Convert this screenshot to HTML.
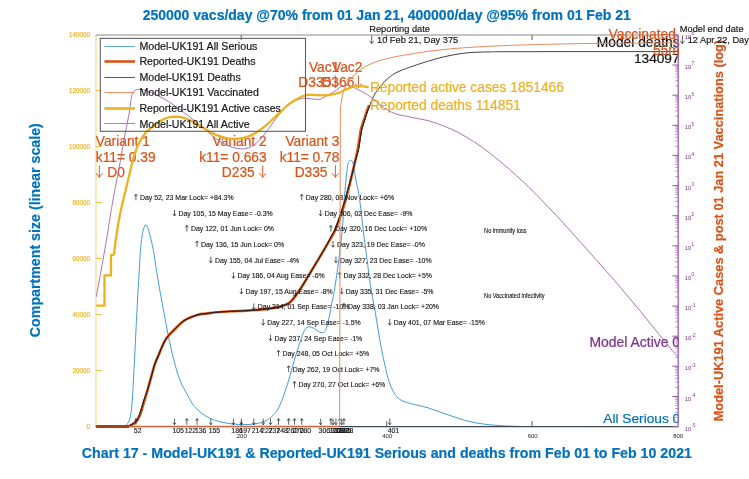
<!DOCTYPE html>
<html><head><meta charset="utf-8"><title>Chart 17</title>
<style>html,body{margin:0;padding:0;background:#fff;overflow:hidden;}svg{display:block;will-change:transform;}text{font-family:"Liberation Sans",sans-serif;}</style>
</head><body>
<svg width="749" height="479" viewBox="0 0 749 479">
<rect width="749" height="479" fill="#fff"/>
<defs><clipPath id="cpR"><rect x="0" y="0" width="678.5" height="479"/></clipPath></defs>
<text x="386.7" y="19.6" text-anchor="middle" font-size="14.0" font-weight="bold" fill="#0072BD" stroke="#0072BD" stroke-width="0.2">250000 vacs/day @70% from 01 Jan 21, 400000/day @95% from 01 Feb 21</text>
<text x="386.9" y="458.1" text-anchor="middle" font-size="14.21" font-weight="bold" fill="#0072BD" stroke="#0072BD" stroke-width="0.2">Chart 17 - Model-UK191 &amp; Reported-UK191 Serious and deaths from Feb 01 to Feb 10 2021</text>
<text transform="translate(40,230.2) rotate(-90)" text-anchor="middle" font-size="14.21" font-weight="bold" fill="#0072BD" stroke="#0072BD" stroke-width="0.2">Compartment size (linear scale)</text>
<text transform="translate(723.3,230.6) rotate(-90)" text-anchor="middle" font-size="12.8" font-weight="bold" fill="#D95319" stroke="#D95319" stroke-width="0.2">Model-UK191 Active Cases &amp; post 01 Jan 21 Vaccinations (log)</text>
<path d="M95.95,34.9 V426.6" stroke="#FAE0A3" stroke-width="1.55" fill="none"/>
<path d="M241.2,426.6 v-5.5 M241.2,34.9 v5" stroke="#4a4a4a" stroke-width="0.9" fill="none"/>
<text x="241.8" y="437.8" text-anchor="middle" font-size="6.0" fill="#222">200</text>
<path d="M386.7,426.6 v-5.5 M386.7,34.9 v5" stroke="#4a4a4a" stroke-width="0.9" fill="none"/>
<text x="387.3" y="437.8" text-anchor="middle" font-size="6.0" fill="#222">400</text>
<path d="M532.1,426.6 v-5.5 M532.1,34.9 v5" stroke="#4a4a4a" stroke-width="0.9" fill="none"/>
<text x="532.7" y="437.8" text-anchor="middle" font-size="6.0" fill="#222">600</text>
<text x="678.2" y="437.8" text-anchor="middle" font-size="6.0" fill="#222">800</text>
<text x="89.9" y="428.9" text-anchor="end" font-size="6.3" fill="#EDB120" stroke="#EDB120" stroke-width="0.15">0</text>
<text x="89.9" y="372.9" text-anchor="end" font-size="6.3" fill="#EDB120" stroke="#EDB120" stroke-width="0.15">20000</text>
<text x="89.9" y="317.0" text-anchor="end" font-size="6.3" fill="#EDB120" stroke="#EDB120" stroke-width="0.15">40000</text>
<text x="89.9" y="261.0" text-anchor="end" font-size="6.3" fill="#EDB120" stroke="#EDB120" stroke-width="0.15">60000</text>
<text x="89.9" y="205.1" text-anchor="end" font-size="6.3" fill="#EDB120" stroke="#EDB120" stroke-width="0.15">80000</text>
<text x="89.9" y="149.1" text-anchor="end" font-size="6.3" fill="#EDB120" stroke="#EDB120" stroke-width="0.15">100000</text>
<text x="89.9" y="93.2" text-anchor="end" font-size="6.3" fill="#EDB120" stroke="#EDB120" stroke-width="0.15">120000</text>
<text x="89.9" y="37.2" text-anchor="end" font-size="6.3" fill="#EDB120" stroke="#EDB120" stroke-width="0.15">140000</text>
<path d="M95.7,35.0 H678.2" stroke="#8a8a8a" stroke-width="1.2" fill="none"/>
<path d="M96.3,370.5 h5.2" stroke="#F0BD45" stroke-width="1.0" fill="none"/>
<path d="M96.3,314.5 h5.2" stroke="#F0BD45" stroke-width="1.0" fill="none"/>
<path d="M96.3,258.5 h5.2" stroke="#F0BD45" stroke-width="1.0" fill="none"/>
<path d="M96.3,202.5 h5.2" stroke="#F0BD45" stroke-width="1.0" fill="none"/>
<path d="M96.3,146.5 h5.2" stroke="#F0BD45" stroke-width="1.0" fill="none"/>
<path d="M96.3,90.5 h5.2" stroke="#F0BD45" stroke-width="1.0" fill="none"/>
<path d="M121.0,426.6 C121.5,426.6 122.9,426.9 124.0,426.3 C125.1,425.8 126.6,424.9 127.7,423.3 C128.8,421.7 129.6,420.5 130.4,416.6 C131.2,412.7 131.7,407.2 132.3,400.0 C132.9,392.8 133.3,382.8 133.8,373.1 C134.3,363.4 134.8,354.0 135.4,341.8 C136.0,329.6 136.9,311.8 137.5,300.0 C138.1,288.2 138.7,279.2 139.2,271.3 C139.7,263.4 139.9,257.9 140.3,252.6 C140.7,247.3 141.1,243.3 141.6,239.4 C142.1,235.5 142.8,231.5 143.5,229.1 C144.2,226.7 145.1,224.8 145.9,224.8 C146.7,224.8 147.3,226.7 148.2,229.1 C149.0,231.5 150.1,235.5 151.0,239.4 C151.9,243.3 152.9,247.3 153.8,252.6 C154.7,257.9 155.6,265.1 156.6,271.3 C157.6,277.6 159.0,285.3 159.8,290.1 C160.6,294.9 160.8,295.6 161.6,300.0 C162.4,304.4 163.7,311.1 164.7,316.7 C165.7,322.3 166.8,328.2 167.8,333.4 C168.9,338.6 169.8,342.9 171.0,348.1 C172.2,353.3 173.7,359.8 175.1,364.8 C176.5,369.9 177.9,374.6 179.3,378.4 C180.7,382.2 182.1,385.0 183.5,387.8 C184.9,390.6 186.2,392.4 187.7,395.1 C189.2,397.8 191.0,401.5 192.5,403.8 C194.0,406.1 195.3,407.3 196.7,408.8 C198.1,410.3 199.5,411.5 200.9,412.6 C202.3,413.7 203.7,414.6 205.1,415.5 C206.5,416.4 207.8,417.3 209.2,418.0 C210.6,418.7 212.0,419.2 213.4,419.7 C214.8,420.2 216.2,420.7 217.6,421.1 C219.0,421.5 220.4,421.9 221.8,422.2 C223.2,422.5 224.6,422.8 226.0,423.0 C227.4,423.2 228.7,423.5 230.1,423.7 C231.5,423.9 232.7,424.0 234.3,424.1 C236.0,424.2 238.1,424.4 240.0,424.5 C241.9,424.6 243.9,424.7 246.0,424.6 C248.1,424.6 250.6,424.4 252.6,424.2 C254.6,424.0 256.2,423.7 258.0,423.3 C259.8,422.9 261.2,422.7 263.1,421.9 C265.0,421.1 267.2,420.3 269.3,418.7 C271.4,417.1 273.9,414.8 275.6,412.5 C277.4,410.2 278.4,408.2 279.8,405.2 C281.2,402.2 282.5,398.5 283.9,394.7 C285.3,390.9 286.7,386.7 288.1,382.2 C289.5,377.7 290.9,372.5 292.3,367.6 C293.7,362.7 295.1,357.5 296.5,353.0 C297.9,348.5 299.4,344.0 300.6,340.4 C301.9,336.8 303.0,333.6 304.0,331.5 C305.0,329.4 305.7,328.6 306.7,327.8 C307.7,327.0 309.0,326.7 310.1,326.8 C311.2,326.9 312.2,327.5 313.5,328.2 C314.8,328.9 316.4,330.1 317.6,330.9 C318.9,331.6 320.0,332.5 321.0,332.7 C322.0,332.9 322.9,332.8 323.7,332.3 C324.5,331.8 325.0,331.0 325.7,329.5 C326.4,328.0 327.1,326.0 327.8,323.4 C328.5,320.8 329.1,317.3 329.8,313.9 C330.5,310.5 331.1,306.5 331.8,303.1 C332.5,299.7 333.4,296.0 333.9,293.6 C334.4,291.2 334.1,292.3 334.6,289.0 C335.1,285.7 336.2,278.7 336.9,273.9 C337.6,269.1 338.2,264.7 338.8,260.1 C339.4,255.5 339.8,251.3 340.4,246.3 C341.0,241.3 341.8,235.2 342.3,230.0 C342.8,224.8 343.0,220.0 343.3,215.0 C343.6,210.0 343.8,204.5 344.1,200.0 C344.4,195.5 344.9,191.7 345.2,188.0 C345.5,184.3 345.8,181.7 346.2,178.0 C346.6,174.3 347.1,168.6 347.6,165.8 C348.1,163.0 348.5,162.3 349.0,161.4 C349.5,160.5 350.1,160.2 350.6,160.2 C351.1,160.2 351.7,160.5 352.2,161.4 C352.7,162.3 353.1,163.0 353.6,165.8 C354.2,168.6 354.6,173.1 355.5,178.0 C356.4,182.9 358.0,188.9 359.0,195.0 C360.0,201.1 360.7,208.2 361.5,214.8 C362.3,221.4 362.9,228.0 363.7,234.6 C364.5,241.2 365.5,247.8 366.4,254.4 C367.3,261.0 368.1,268.3 368.9,274.2 C369.7,280.1 370.5,286.0 371.1,289.9 C371.7,293.8 371.8,293.5 372.5,297.5 C373.2,301.5 374.5,308.3 375.5,313.9 C376.5,319.4 377.4,325.2 378.3,330.8 C379.2,336.4 380.1,342.1 381.2,347.7 C382.3,353.3 383.6,359.5 384.8,364.7 C386.0,369.9 386.9,374.6 388.2,378.8 C389.5,383.0 390.9,386.9 392.5,390.1 C394.1,393.3 396.0,396.0 398.1,398.0 C400.2,400.0 402.1,400.7 405.2,401.9 C408.2,403.1 412.6,404.0 416.4,405.0 C420.2,406.0 424.1,406.6 428.0,407.8 C431.9,409.0 436.0,410.7 440.0,412.1 C444.0,413.5 448.0,414.9 452.0,416.2 C456.0,417.5 460.1,419.0 464.1,420.1 C468.1,421.2 472.1,422.1 476.1,422.9 C480.1,423.6 484.1,424.2 488.1,424.6 C492.1,425.1 496.2,425.3 500.2,425.6 C504.2,425.9 508.7,426.1 512.0,426.2 C515.3,426.3 518.7,426.4 520.0,426.5" stroke="#449ADA" stroke-width="1.0" fill="none"/>
<path d="M96.3,426.4 C101.2,426.4 120.3,426.5 126.0,426.3 C131.7,426.1 128.8,426.1 130.4,425.4 C132.0,424.7 134.2,423.7 135.8,422.0 C137.4,420.3 138.4,418.9 139.9,415.2 C141.4,411.5 143.3,404.2 144.6,400.0 C145.9,395.8 146.5,393.6 147.6,389.8 C148.7,386.0 149.9,381.5 151.1,377.3 C152.3,373.1 153.4,368.4 154.6,364.8 C155.8,361.2 157.1,358.7 158.2,356.0 C159.3,353.3 160.2,351.0 161.3,348.4 C162.4,345.8 163.8,342.8 165.0,340.6 C166.2,338.4 167.5,336.8 168.8,335.3 C170.0,333.8 171.2,332.8 172.5,331.5 C173.8,330.2 175.0,328.9 176.2,327.7 C177.5,326.5 178.6,325.3 180.0,324.1 C181.4,322.9 182.7,321.5 184.5,320.4 C186.3,319.3 188.7,318.2 190.8,317.3 C192.8,316.4 195.1,315.7 197.0,315.1 C198.9,314.5 200.7,314.2 202.0,313.9 C203.3,313.7 202.7,314.1 205.0,313.8 C207.3,313.5 211.3,312.7 215.7,312.3 C220.1,311.9 226.1,311.6 231.3,311.3 C236.5,311.0 241.8,310.9 247.0,310.6 C252.2,310.3 258.0,309.9 262.7,309.4 C267.4,308.9 271.5,308.3 275.2,307.6 C278.9,306.9 282.5,305.9 285.0,305.0 C287.5,304.1 288.6,303.5 290.4,301.9 C292.2,300.3 294.1,297.8 295.9,295.4 C297.7,293.0 299.5,290.3 301.3,287.5 C303.1,284.7 304.9,281.6 306.7,278.7 C308.5,275.8 310.1,273.1 312.0,269.9 C313.9,266.7 316.0,263.2 318.2,259.6 C320.4,256.0 322.9,251.8 325.0,248.2 C327.1,244.6 329.2,241.1 330.9,238.1 C332.6,235.1 333.7,233.7 335.3,230.0 C336.9,226.3 338.8,221.0 340.5,216.0 C342.2,211.0 344.3,204.4 345.6,200.0 C346.9,195.6 347.5,193.2 348.4,189.5 C349.3,185.8 350.2,182.2 351.2,178.0 C352.2,173.8 353.3,169.0 354.4,164.3 C355.5,159.6 356.8,154.0 357.6,150.0 C358.4,146.0 358.6,143.9 359.2,140.5 C359.8,137.1 360.1,133.0 361.0,129.4 C361.9,125.8 363.3,121.9 364.3,118.8 C365.3,115.6 366.2,112.9 367.0,110.6 C367.8,108.3 368.8,106.1 369.1,105.2" stroke="#D95319" stroke-width="2.65" fill="none" stroke-linejoin="round"/>
<path d="M95.7,426.4 C100.7,426.4 119.7,426.5 125.4,426.3 C131.1,426.1 128.2,426.1 129.8,425.4 C131.4,424.7 133.6,423.7 135.2,422.0 C136.8,420.3 137.8,418.9 139.3,415.2 C140.8,411.5 142.6,404.2 144.0,400.0 C145.4,395.8 146.4,393.6 147.6,389.8 C148.8,386.0 149.9,381.5 151.1,377.3 C152.3,373.1 153.4,368.4 154.6,364.8 C155.8,361.2 157.1,358.7 158.2,356.0 C159.3,353.3 160.2,351.0 161.3,348.4 C162.4,345.8 163.8,342.8 165.0,340.6 C166.2,338.4 167.5,336.8 168.8,335.3 C170.0,333.8 171.2,332.8 172.5,331.5 C173.8,330.2 175.0,328.9 176.2,327.7 C177.5,326.5 178.6,325.3 180.0,324.1 C181.4,322.9 182.7,321.5 184.5,320.4 C186.3,319.3 188.7,318.2 190.8,317.3 C192.8,316.4 195.1,315.7 197.0,315.1 C198.9,314.5 200.7,314.2 202.0,313.9 C203.3,313.7 202.7,314.1 205.0,313.8 C207.3,313.5 211.3,312.7 215.7,312.3 C220.1,311.9 226.1,311.6 231.3,311.3 C236.5,311.0 241.8,310.9 247.0,310.6 C252.2,310.3 258.0,309.9 262.7,309.4 C267.4,308.9 271.5,308.3 275.2,307.6 C278.9,306.9 282.5,305.9 285.0,305.0 C287.5,304.1 288.6,303.5 290.4,301.9 C292.2,300.3 294.1,297.8 295.9,295.4 C297.7,293.0 299.5,290.3 301.3,287.5 C303.1,284.7 304.9,281.6 306.7,278.7 C308.5,275.8 310.1,273.1 312.0,269.9 C313.9,266.7 316.0,263.2 318.2,259.6 C320.4,256.0 323.0,251.8 325.0,248.2 C327.0,244.6 328.7,241.1 330.3,238.1 C331.9,235.1 333.1,233.7 334.7,230.0 C336.3,226.3 338.2,221.0 339.9,216.0 C341.6,211.0 343.7,204.4 345.0,200.0 C346.3,195.6 346.8,193.2 347.8,189.5 C348.8,185.8 350.1,182.2 351.2,178.0 C352.3,173.8 353.2,169.0 354.4,164.3 C355.6,159.6 357.5,154.0 358.4,150.0 C359.3,146.0 359.4,143.9 360.0,140.5 C360.6,137.1 360.9,133.0 361.8,129.4 C362.7,125.8 364.1,121.9 365.1,118.8 C366.1,115.6 367.0,112.9 367.8,110.6 C368.6,108.3 369.5,106.4 369.9,105.2 C370.3,104.0 370.1,104.4 370.4,103.5 C370.7,102.6 371.2,101.4 371.9,99.8 C372.6,98.2 373.8,95.7 374.8,94.0 C375.8,92.3 376.8,91.1 378.1,89.4 C379.4,87.7 380.9,85.5 382.5,83.8 C384.1,82.0 385.6,80.4 387.5,78.8 C389.4,77.1 391.7,75.4 393.8,74.1 C395.8,72.8 398.1,71.8 400.0,70.9 C401.9,70.1 402.7,69.8 404.9,69.0 C407.1,68.2 410.2,67.0 413.2,66.0 C416.1,65.0 419.5,63.9 422.6,62.9 C425.7,61.9 429.1,60.9 432.0,60.0 C434.9,59.1 437.0,58.5 440.0,57.8 C443.0,57.0 446.7,56.2 450.0,55.5 C453.3,54.8 456.7,54.2 460.0,53.7 C463.3,53.2 466.7,52.9 470.0,52.6 C473.3,52.3 476.7,52.2 480.0,52.1 C483.3,52.0 486.1,51.9 490.0,51.9 C493.9,51.8 493.5,51.7 503.5,51.7 C513.5,51.7 520.9,51.7 550.0,51.6 C579.1,51.6 656.7,51.6 678.0,51.6" stroke="#2e2e2e" stroke-width="0.9" fill="none"/>
<path d="M95.7,426.4 C100.7,426.4 119.7,426.5 125.4,426.3 C131.1,426.1 128.2,426.1 129.8,425.4 C131.4,424.7 133.6,423.7 135.2,422.0 C136.8,420.3 137.8,418.9 139.3,415.2 C140.8,411.5 142.6,404.2 144.0,400.0 C145.4,395.8 146.4,393.6 147.6,389.8 C148.8,386.0 149.9,381.5 151.1,377.3 C152.3,373.1 153.4,368.4 154.6,364.8 C155.8,361.2 157.1,358.7 158.2,356.0 C159.3,353.3 160.2,351.0 161.3,348.4 C162.4,345.8 163.8,342.8 165.0,340.6 C166.2,338.4 167.5,336.8 168.8,335.3 C170.0,333.8 171.2,332.8 172.5,331.5 C173.8,330.2 175.0,328.9 176.2,327.7 C177.5,326.5 178.6,325.3 180.0,324.1 C181.4,322.9 182.7,321.5 184.5,320.4 C186.3,319.3 188.7,318.2 190.8,317.3 C192.8,316.4 195.1,315.7 197.0,315.1 C198.9,314.5 200.7,314.2 202.0,313.9 C203.3,313.7 202.7,314.1 205.0,313.8 C207.3,313.5 211.3,312.7 215.7,312.3 C220.1,311.9 226.1,311.6 231.3,311.3 C236.5,311.0 241.8,310.9 247.0,310.6 C252.2,310.3 258.0,309.9 262.7,309.4 C267.4,308.9 271.5,308.3 275.2,307.6 C278.9,306.9 282.5,305.9 285.0,305.0 C287.5,304.1 288.6,303.5 290.4,301.9 C292.2,300.3 294.1,297.8 295.9,295.4 C297.7,293.0 299.5,290.3 301.3,287.5 C303.1,284.7 304.9,281.6 306.7,278.7 C308.5,275.8 310.1,273.1 312.0,269.9 C313.9,266.7 316.0,263.2 318.2,259.6 C320.4,256.0 323.0,251.8 325.0,248.2 C327.0,244.6 328.7,241.1 330.3,238.1 C331.9,235.1 333.1,233.7 334.7,230.0 C336.3,226.3 338.2,221.0 339.9,216.0 C341.6,211.0 343.7,204.4 345.0,200.0 C346.3,195.6 346.8,193.2 347.8,189.5 C348.8,185.8 350.1,182.2 351.2,178.0 C352.3,173.8 353.2,169.0 354.4,164.3 C355.6,159.6 357.5,154.0 358.4,150.0 C359.3,146.0 359.4,143.9 360.0,140.5 C360.6,137.1 360.9,133.0 361.8,129.4 C362.7,125.8 364.1,121.9 365.1,118.8 C366.1,115.6 367.0,112.9 367.8,110.6 C368.6,108.3 369.6,106.1 369.9,105.2" stroke="#261a12" stroke-width="0.85" fill="none"/>
<path d="M96.3,426.6 H678.2" stroke="#3d4652" stroke-width="1.15" fill="none"/>
<text x="95.8" y="146.0" text-anchor="start" font-size="13.75" fill="#D95319" stroke="#D95319" stroke-width="0.22">Variant 1</text>
<text x="95.8" y="161.5" text-anchor="start" font-size="13.75" fill="#D95319" stroke="#D95319" stroke-width="0.22">k11= 0.39</text>
<path d="M99.35,165.28 V177.38 M95.91,173.53 Q98.66,175.26 99.35,177.38 Q100.03,175.26 102.78,173.53" stroke="#D95319" stroke-width="0.91" fill="none"/>
<text x="107.3" y="177.1" text-anchor="start" font-size="13.75" fill="#D95319" stroke="#D95319" stroke-width="0.22">D0</text>
<text x="266.6" y="146.0" text-anchor="end" font-size="13.75" fill="#D95319" stroke="#D95319" stroke-width="0.22">Variant 2</text>
<text x="266.6" y="161.5" text-anchor="end" font-size="13.75" fill="#D95319" stroke="#D95319" stroke-width="0.22">k11= 0.663</text>
<path d="M262.69,165.28 V177.38 M259.25,173.53 Q262.00,175.26 262.69,177.38 Q263.38,175.26 266.12,173.53" stroke="#D95319" stroke-width="0.91" fill="none"/>
<text x="254.7" y="177.1" text-anchor="end" font-size="13.75" fill="#D95319" stroke="#D95319" stroke-width="0.22">D235</text>
<text x="339.4" y="146.0" text-anchor="end" font-size="13.75" fill="#D95319" stroke="#D95319" stroke-width="0.22">Variant 3</text>
<text x="339.4" y="161.5" text-anchor="end" font-size="13.75" fill="#D95319" stroke="#D95319" stroke-width="0.22">k11= 0.78</text>
<path d="M335.43,165.28 V177.38 M331.99,173.53 Q334.74,175.26 335.43,177.38 Q336.11,175.26 338.86,173.53" stroke="#D95319" stroke-width="0.91" fill="none"/>
<text x="327.5" y="177.1" text-anchor="end" font-size="13.75" fill="#D95319" stroke="#D95319" stroke-width="0.22">D335</text>
<text x="339.3" y="71.6" text-anchor="end" font-size="13.75" fill="#D95319" stroke="#D95319" stroke-width="0.22">Vac1</text>
<path d="M335.33,75.47 V87.58 M331.89,83.73 Q334.64,85.46 335.33,87.58 Q336.01,85.46 338.76,83.73" stroke="#D95319" stroke-width="0.91" fill="none"/>
<text x="331.2" y="87.3" text-anchor="end" font-size="13.75" fill="#D95319" stroke="#D95319" stroke-width="0.22">D335</text>
<text x="362.4" y="71.6" text-anchor="end" font-size="13.75" fill="#D95319" stroke="#D95319" stroke-width="0.22">Vac2</text>
<path d="M358.47,75.47 V87.58 M355.04,83.73 Q357.79,85.46 358.47,87.58 Q359.16,85.46 361.91,83.73" stroke="#D95319" stroke-width="0.91" fill="none"/>
<text x="354.3" y="87.3" text-anchor="end" font-size="13.75" fill="#D95319" stroke="#D95319" stroke-width="0.22">D366</text>
<text x="369.9" y="110.0" text-anchor="start" font-size="13.8" fill="#EDB120" stroke="#EDB120" stroke-width="0.22">Reported deaths 114851</text>
<text x="679.6" y="47.4" text-anchor="end" font-size="13.8" fill="#141414" stroke="#141414" stroke-width="0.22">Model deaths</text>
<text x="679.6" y="62.8" text-anchor="end" font-size="13.7" fill="#141414" stroke="#141414" stroke-width="0.22">134097</text>
<text x="680.2" y="423.1" text-anchor="end" font-size="13.7" fill="#0072BD" stroke="#0072BD" stroke-width="0.22" clip-path="url(#cpR)">All Serious 0</text>
<text x="369.3" y="32.0" text-anchor="start" font-size="9.25" fill="#141414" stroke="#141414" stroke-width="0.16">Reporting date</text>
<path d="M371.69,35.45 V43.59 M369.38,40.99 Q371.23,42.16 371.69,43.59 Q372.15,42.16 374.00,40.99" stroke="#141414" stroke-width="0.68" fill="none"/>
<text x="377.0" y="43.4" text-anchor="start" font-size="9.25" fill="#141414" stroke="#141414" stroke-width="0.16">10 Feb 21, Day 375</text>
<text x="679.8" y="32.0" text-anchor="start" font-size="9.25" fill="#141414" stroke="#141414" stroke-width="0.16">Model end date</text>
<path d="M682.39,35.45 V43.59 M680.08,40.99 Q681.93,42.16 682.39,43.59 Q682.85,42.16 684.70,40.99" stroke="#141414" stroke-width="0.68" fill="none"/>
<text x="687.7" y="43.4" text-anchor="start" font-size="9.25" fill="#141414" stroke="#141414" stroke-width="0.16">12 Apr 22, Day 800</text>
<text transform="translate(484.1,233.2) scale(1,1.22)" font-size="5.6" fill="#141414" stroke="#141414" stroke-width="0.1">No immunity loss</text>
<text transform="translate(484.1,297.6) scale(1,1.22)" font-size="5.6" fill="#141414" stroke="#141414" stroke-width="0.1">No Vaccinated infectivity</text>
<path d="M135.92,200.34 V194.22 M134.18,196.17 Q135.57,195.29 135.92,194.22 Q136.27,195.29 137.66,196.17" stroke="#141414" stroke-width="0.68" fill="none"/>
<text x="139.9" y="200.2" text-anchor="start" font-size="6.95" fill="#141414" stroke="#141414" stroke-width="0.12">Day 52, 23 Mar Lock= +84.3%</text>
<path d="M135.92,424.74 V418.62 M134.18,420.57 Q135.57,419.69 135.92,418.62 Q136.27,419.69 137.66,420.57" stroke="#141414" stroke-width="0.68" fill="none"/>
<text x="133.8" y="432.8" text-anchor="start" font-size="6.9" fill="#141414" stroke="#141414" stroke-width="0.12">52</text>
<path d="M174.47,209.82 V215.94 M172.73,213.99 Q174.12,214.87 174.47,215.94 Q174.82,214.87 176.21,213.99" stroke="#141414" stroke-width="0.68" fill="none"/>
<text x="178.5" y="215.8" text-anchor="start" font-size="6.95" fill="#141414" stroke="#141414" stroke-width="0.12">Day 105, 15 May Ease= -0.3%</text>
<path d="M174.47,418.62 V424.74 M172.73,422.79 Q174.12,423.67 174.47,424.74 Q174.82,423.67 176.21,422.79" stroke="#141414" stroke-width="0.68" fill="none"/>
<text x="172.4" y="432.8" text-anchor="start" font-size="6.9" fill="#141414" stroke="#141414" stroke-width="0.12">105</text>
<path d="M186.84,231.54 V225.42 M185.10,227.37 Q186.49,226.49 186.84,225.42 Q187.18,226.49 188.57,227.37" stroke="#141414" stroke-width="0.68" fill="none"/>
<text x="190.9" y="231.4" text-anchor="start" font-size="6.95" fill="#141414" stroke="#141414" stroke-width="0.12">Day 122, 01 Jun Lock= 0%</text>
<path d="M186.84,424.74 V418.62 M185.10,420.57 Q186.49,419.69 186.84,418.62 Q187.18,419.69 188.57,420.57" stroke="#141414" stroke-width="0.68" fill="none"/>
<text x="184.7" y="432.8" text-anchor="start" font-size="6.9" fill="#141414" stroke="#141414" stroke-width="0.12">122</text>
<path d="M197.02,247.14 V241.02 M195.28,242.97 Q196.67,242.09 197.02,241.02 Q197.37,242.09 198.76,242.97" stroke="#141414" stroke-width="0.68" fill="none"/>
<text x="201.0" y="247.0" text-anchor="start" font-size="6.95" fill="#141414" stroke="#141414" stroke-width="0.12">Day 136, 15 Jun Lock= 0%</text>
<path d="M197.02,424.74 V418.62 M195.28,420.57 Q196.67,419.69 197.02,418.62 Q197.37,419.69 198.76,420.57" stroke="#141414" stroke-width="0.68" fill="none"/>
<text x="194.9" y="432.8" text-anchor="start" font-size="6.9" fill="#141414" stroke="#141414" stroke-width="0.12">136</text>
<path d="M210.84,256.62 V262.74 M209.10,260.79 Q210.49,261.67 210.84,262.74 Q211.19,261.67 212.58,260.79" stroke="#141414" stroke-width="0.68" fill="none"/>
<text x="214.9" y="262.6" text-anchor="start" font-size="6.95" fill="#141414" stroke="#141414" stroke-width="0.12">Day 155, 04 Jul Ease= -4%</text>
<path d="M210.84,418.62 V424.74 M209.10,422.79 Q210.49,423.67 210.84,424.74 Q211.19,423.67 212.58,422.79" stroke="#141414" stroke-width="0.68" fill="none"/>
<text x="208.7" y="432.8" text-anchor="start" font-size="6.9" fill="#141414" stroke="#141414" stroke-width="0.12">155</text>
<path d="M233.39,272.22 V278.34 M231.65,276.39 Q233.04,277.27 233.39,278.34 Q233.73,277.27 235.12,276.39" stroke="#141414" stroke-width="0.68" fill="none"/>
<text x="237.4" y="278.2" text-anchor="start" font-size="6.95" fill="#141414" stroke="#141414" stroke-width="0.12">Day 186, 04 Aug Ease= -6%</text>
<path d="M233.39,418.62 V424.74 M231.65,422.79 Q233.04,423.67 233.39,424.74 Q233.73,423.67 235.12,422.79" stroke="#141414" stroke-width="0.68" fill="none"/>
<text x="231.3" y="432.8" text-anchor="start" font-size="6.9" fill="#141414" stroke="#141414" stroke-width="0.12">186</text>
<path d="M241.39,287.82 V293.94 M239.65,291.99 Q241.04,292.87 241.39,293.94 Q241.74,292.87 243.13,291.99" stroke="#141414" stroke-width="0.68" fill="none"/>
<text x="245.4" y="293.8" text-anchor="start" font-size="6.95" fill="#141414" stroke="#141414" stroke-width="0.12">Day 197, 15 Aug Ease= -8%</text>
<path d="M241.39,418.62 V424.74 M239.65,422.79 Q241.04,423.67 241.39,424.74 Q241.74,423.67 243.13,422.79" stroke="#141414" stroke-width="0.68" fill="none"/>
<text x="239.3" y="432.8" text-anchor="start" font-size="6.9" fill="#141414" stroke="#141414" stroke-width="0.12">197</text>
<path d="M253.75,303.42 V309.54 M252.02,307.59 Q253.41,308.47 253.75,309.54 Q254.10,308.47 255.49,307.59" stroke="#141414" stroke-width="0.68" fill="none"/>
<text x="257.8" y="309.4" text-anchor="start" font-size="6.95" fill="#141414" stroke="#141414" stroke-width="0.12">Day 214, 01 Sep Ease= -10%</text>
<path d="M253.75,418.62 V424.74 M252.02,422.79 Q253.41,423.67 253.75,424.74 Q254.10,423.67 255.49,422.79" stroke="#141414" stroke-width="0.68" fill="none"/>
<text x="251.7" y="432.8" text-anchor="start" font-size="6.9" fill="#141414" stroke="#141414" stroke-width="0.12">214</text>
<path d="M263.21,319.02 V325.14 M261.47,323.19 Q262.86,324.07 263.21,325.14 Q263.56,324.07 264.95,323.19" stroke="#141414" stroke-width="0.68" fill="none"/>
<text x="267.2" y="325.0" text-anchor="start" font-size="6.95" fill="#141414" stroke="#141414" stroke-width="0.12">Day 227, 14 Sep Ease= -1.5%</text>
<path d="M263.21,418.62 V424.74 M261.47,422.79 Q262.86,423.67 263.21,424.74 Q263.56,423.67 264.95,422.79" stroke="#141414" stroke-width="0.68" fill="none"/>
<text x="261.1" y="432.8" text-anchor="start" font-size="6.9" fill="#141414" stroke="#141414" stroke-width="0.12">227</text>
<path d="M270.48,334.62 V340.74 M268.75,338.79 Q270.14,339.67 270.48,340.74 Q270.83,339.67 272.22,338.79" stroke="#141414" stroke-width="0.68" fill="none"/>
<text x="274.5" y="340.6" text-anchor="start" font-size="6.95" fill="#141414" stroke="#141414" stroke-width="0.12">Day 237, 24 Sep Ease= -1%</text>
<path d="M270.48,418.62 V424.74 M268.75,422.79 Q270.14,423.67 270.48,424.74 Q270.83,423.67 272.22,422.79" stroke="#141414" stroke-width="0.68" fill="none"/>
<text x="268.4" y="432.8" text-anchor="start" font-size="6.9" fill="#141414" stroke="#141414" stroke-width="0.12">237</text>
<path d="M278.48,356.34 V350.22 M276.75,352.17 Q278.14,351.29 278.48,350.22 Q278.83,351.29 280.22,352.17" stroke="#141414" stroke-width="0.68" fill="none"/>
<text x="282.5" y="356.2" text-anchor="start" font-size="6.95" fill="#141414" stroke="#141414" stroke-width="0.12">Day 248, 05 Oct Lock= +5%</text>
<path d="M278.48,424.74 V418.62 M276.75,420.57 Q278.14,419.69 278.48,418.62 Q278.83,419.69 280.22,420.57" stroke="#141414" stroke-width="0.68" fill="none"/>
<text x="276.4" y="432.8" text-anchor="start" font-size="6.9" fill="#141414" stroke="#141414" stroke-width="0.12">248</text>
<path d="M288.67,371.94 V365.82 M286.93,367.77 Q288.32,366.89 288.67,365.82 Q289.02,366.89 290.41,367.77" stroke="#141414" stroke-width="0.68" fill="none"/>
<text x="292.7" y="371.8" text-anchor="start" font-size="6.95" fill="#141414" stroke="#141414" stroke-width="0.12">Day 262, 19 Oct Lock= +7%</text>
<path d="M288.67,424.74 V418.62 M286.93,420.57 Q288.32,419.69 288.67,418.62 Q289.02,419.69 290.41,420.57" stroke="#141414" stroke-width="0.68" fill="none"/>
<text x="286.6" y="432.8" text-anchor="start" font-size="6.9" fill="#141414" stroke="#141414" stroke-width="0.12">262</text>
<path d="M294.49,387.54 V381.42 M292.75,383.37 Q294.14,382.49 294.49,381.42 Q294.83,382.49 296.22,383.37" stroke="#141414" stroke-width="0.68" fill="none"/>
<text x="298.5" y="387.4" text-anchor="start" font-size="6.95" fill="#141414" stroke="#141414" stroke-width="0.12">Day 270, 27 Oct Lock= +6%</text>
<path d="M294.49,424.74 V418.62 M292.75,420.57 Q294.14,419.69 294.49,418.62 Q294.83,419.69 296.22,420.57" stroke="#141414" stroke-width="0.68" fill="none"/>
<text x="292.4" y="432.8" text-anchor="start" font-size="6.9" fill="#141414" stroke="#141414" stroke-width="0.12">270</text>
<path d="M301.76,200.34 V194.22 M300.02,196.17 Q301.41,195.29 301.76,194.22 Q302.11,195.29 303.50,196.17" stroke="#141414" stroke-width="0.68" fill="none"/>
<text x="305.8" y="200.2" text-anchor="start" font-size="6.95" fill="#141414" stroke="#141414" stroke-width="0.12">Day 280, 08 Nov Lock= +6%</text>
<path d="M301.76,424.74 V418.62 M300.02,420.57 Q301.41,419.69 301.76,418.62 Q302.11,419.69 303.50,420.57" stroke="#141414" stroke-width="0.68" fill="none"/>
<text x="299.7" y="432.8" text-anchor="start" font-size="6.9" fill="#141414" stroke="#141414" stroke-width="0.12">280</text>
<path d="M320.67,209.82 V215.94 M318.93,213.99 Q320.32,214.87 320.67,215.94 Q321.02,214.87 322.41,213.99" stroke="#141414" stroke-width="0.68" fill="none"/>
<text x="324.7" y="215.8" text-anchor="start" font-size="6.95" fill="#141414" stroke="#141414" stroke-width="0.12">Day 306, 02 Dec Ease= -9%</text>
<path d="M320.67,418.62 V424.74 M318.93,422.79 Q320.32,423.67 320.67,424.74 Q321.02,423.67 322.41,422.79" stroke="#141414" stroke-width="0.68" fill="none"/>
<text x="318.6" y="432.8" text-anchor="start" font-size="6.9" fill="#141414" stroke="#141414" stroke-width="0.12">306</text>
<path d="M330.86,231.54 V225.42 M329.12,227.37 Q330.51,226.49 330.86,225.42 Q331.20,226.49 332.59,227.37" stroke="#141414" stroke-width="0.68" fill="none"/>
<text x="334.9" y="231.4" text-anchor="start" font-size="6.95" fill="#141414" stroke="#141414" stroke-width="0.12">Day 320, 16 Dec Lock= +10%</text>
<path d="M330.86,424.74 V418.62 M329.12,420.57 Q330.51,419.69 330.86,418.62 Q331.20,419.69 332.59,420.57" stroke="#141414" stroke-width="0.68" fill="none"/>
<text x="328.8" y="432.8" text-anchor="start" font-size="6.9" fill="#141414" stroke="#141414" stroke-width="0.12">320</text>
<path d="M333.04,241.02 V247.14 M331.30,245.19 Q332.69,246.07 333.04,247.14 Q333.39,246.07 334.78,245.19" stroke="#141414" stroke-width="0.68" fill="none"/>
<text x="337.1" y="247.0" text-anchor="start" font-size="6.95" fill="#141414" stroke="#141414" stroke-width="0.12">Day 323, 19 Dec Ease= -0%</text>
<path d="M333.04,418.62 V424.74 M331.30,422.79 Q332.69,423.67 333.04,424.74 Q333.39,423.67 334.78,422.79" stroke="#141414" stroke-width="0.68" fill="none"/>
<text x="330.9" y="432.8" text-anchor="start" font-size="6.9" fill="#141414" stroke="#141414" stroke-width="0.12">323</text>
<path d="M335.95,256.62 V262.74 M334.21,260.79 Q335.60,261.67 335.95,262.74 Q336.29,261.67 337.68,260.79" stroke="#141414" stroke-width="0.68" fill="none"/>
<text x="340.0" y="262.6" text-anchor="start" font-size="6.95" fill="#141414" stroke="#141414" stroke-width="0.12">Day 327, 23 Dec Ease= -10%</text>
<path d="M335.95,418.62 V424.74 M334.21,422.79 Q335.60,423.67 335.95,424.74 Q336.29,423.67 337.68,422.79" stroke="#141414" stroke-width="0.68" fill="none"/>
<text x="333.9" y="432.8" text-anchor="start" font-size="6.9" fill="#141414" stroke="#141414" stroke-width="0.12">327</text>
<path d="M339.58,278.34 V272.22 M337.85,274.17 Q339.24,273.29 339.58,272.22 Q339.93,273.29 341.32,274.17" stroke="#141414" stroke-width="0.68" fill="none"/>
<text x="343.6" y="278.2" text-anchor="start" font-size="6.95" fill="#141414" stroke="#141414" stroke-width="0.12">Day 332, 28 Dec Lock= +5%</text>
<path d="M339.58,424.74 V418.62 M337.85,420.57 Q339.24,419.69 339.58,418.62 Q339.93,419.69 341.32,420.57" stroke="#141414" stroke-width="0.68" fill="none"/>
<text x="337.5" y="432.8" text-anchor="start" font-size="6.9" fill="#141414" stroke="#141414" stroke-width="0.12">332</text>
<path d="M341.77,287.82 V293.94 M340.03,291.99 Q341.42,292.87 341.77,293.94 Q342.11,292.87 343.50,291.99" stroke="#141414" stroke-width="0.68" fill="none"/>
<text x="345.8" y="293.8" text-anchor="start" font-size="6.95" fill="#141414" stroke="#141414" stroke-width="0.12">Day 335, 31 Dec Ease= -5%</text>
<path d="M341.77,418.62 V424.74 M340.03,422.79 Q341.42,423.67 341.77,424.74 Q342.11,423.67 343.50,422.79" stroke="#141414" stroke-width="0.68" fill="none"/>
<text x="339.7" y="432.8" text-anchor="start" font-size="6.9" fill="#141414" stroke="#141414" stroke-width="0.12">335</text>
<path d="M343.95,309.54 V303.42 M342.21,305.37 Q343.60,304.49 343.95,303.42 Q344.30,304.49 345.69,305.37" stroke="#141414" stroke-width="0.68" fill="none"/>
<text x="348.0" y="309.4" text-anchor="start" font-size="6.95" fill="#141414" stroke="#141414" stroke-width="0.12">Day 338, 03 Jan Lock= +20%</text>
<path d="M343.95,424.74 V418.62 M342.21,420.57 Q343.60,419.69 343.95,418.62 Q344.30,419.69 345.69,420.57" stroke="#141414" stroke-width="0.68" fill="none"/>
<text x="341.9" y="432.8" text-anchor="start" font-size="6.9" fill="#141414" stroke="#141414" stroke-width="0.12">338</text>
<path d="M389.77,319.02 V325.14 M388.04,323.19 Q389.43,324.07 389.77,325.14 Q390.12,324.07 391.51,323.19" stroke="#141414" stroke-width="0.68" fill="none"/>
<text x="393.8" y="325.0" text-anchor="start" font-size="6.95" fill="#141414" stroke="#141414" stroke-width="0.12">Day 401, 07 Mar Ease= -15%</text>
<path d="M389.77,418.62 V424.74 M388.04,422.79 Q389.43,423.67 389.77,424.74 Q390.12,423.67 391.51,422.79" stroke="#141414" stroke-width="0.68" fill="none"/>
<text x="387.7" y="432.8" text-anchor="start" font-size="6.9" fill="#141414" stroke="#141414" stroke-width="0.12">401</text>
<path d="M678.2,34.9 V426.6" stroke="#9B5FA8" stroke-width="1.3" fill="none"/>
<path d="M678.2,34.9 h-5.8" stroke="#9559A3" stroke-width="1.0" fill="none"/>
<text x="684.7" y="38.9" font-size="5.8" fill="#7E2F8E">10<tspan dy="-3.6" dx="0.3" font-size="4.5">8</tspan></text>
<path d="M678.2,56.0 h-2.9" stroke="#A06AAD" stroke-width="0.75" fill="none"/>
<path d="M678.2,50.7 h-2.9" stroke="#A06AAD" stroke-width="0.75" fill="none"/>
<path d="M678.2,46.9 h-2.9" stroke="#A06AAD" stroke-width="0.75" fill="none"/>
<path d="M678.2,44.0 h-2.9" stroke="#A06AAD" stroke-width="0.75" fill="none"/>
<path d="M678.2,41.6 h-2.9" stroke="#A06AAD" stroke-width="0.75" fill="none"/>
<path d="M678.2,39.6 h-2.9" stroke="#A06AAD" stroke-width="0.75" fill="none"/>
<path d="M678.2,37.8 h-2.9" stroke="#A06AAD" stroke-width="0.75" fill="none"/>
<path d="M678.2,36.3 h-2.9" stroke="#A06AAD" stroke-width="0.75" fill="none"/>
<path d="M678.2,65.0 h-5.8" stroke="#9559A3" stroke-width="1.0" fill="none"/>
<text x="684.7" y="69.0" font-size="5.8" fill="#7E2F8E">10<tspan dy="-3.6" dx="0.3" font-size="4.5">7</tspan></text>
<path d="M678.2,86.1 h-2.9" stroke="#A06AAD" stroke-width="0.75" fill="none"/>
<path d="M678.2,80.8 h-2.9" stroke="#A06AAD" stroke-width="0.75" fill="none"/>
<path d="M678.2,77.0 h-2.9" stroke="#A06AAD" stroke-width="0.75" fill="none"/>
<path d="M678.2,74.1 h-2.9" stroke="#A06AAD" stroke-width="0.75" fill="none"/>
<path d="M678.2,71.7 h-2.9" stroke="#A06AAD" stroke-width="0.75" fill="none"/>
<path d="M678.2,69.7 h-2.9" stroke="#A06AAD" stroke-width="0.75" fill="none"/>
<path d="M678.2,68.0 h-2.9" stroke="#A06AAD" stroke-width="0.75" fill="none"/>
<path d="M678.2,66.4 h-2.9" stroke="#A06AAD" stroke-width="0.75" fill="none"/>
<path d="M678.2,95.2 h-5.8" stroke="#9559A3" stroke-width="1.0" fill="none"/>
<text x="684.7" y="99.2" font-size="5.8" fill="#7E2F8E">10<tspan dy="-3.6" dx="0.3" font-size="4.5">6</tspan></text>
<path d="M678.2,116.2 h-2.9" stroke="#A06AAD" stroke-width="0.75" fill="none"/>
<path d="M678.2,110.9 h-2.9" stroke="#A06AAD" stroke-width="0.75" fill="none"/>
<path d="M678.2,107.2 h-2.9" stroke="#A06AAD" stroke-width="0.75" fill="none"/>
<path d="M678.2,104.2 h-2.9" stroke="#A06AAD" stroke-width="0.75" fill="none"/>
<path d="M678.2,101.8 h-2.9" stroke="#A06AAD" stroke-width="0.75" fill="none"/>
<path d="M678.2,99.8 h-2.9" stroke="#A06AAD" stroke-width="0.75" fill="none"/>
<path d="M678.2,98.1 h-2.9" stroke="#A06AAD" stroke-width="0.75" fill="none"/>
<path d="M678.2,96.5 h-2.9" stroke="#A06AAD" stroke-width="0.75" fill="none"/>
<path d="M678.2,125.3 h-5.8" stroke="#9559A3" stroke-width="1.0" fill="none"/>
<text x="684.7" y="129.3" font-size="5.8" fill="#7E2F8E">10<tspan dy="-3.6" dx="0.3" font-size="4.5">5</tspan></text>
<path d="M678.2,146.4 h-2.9" stroke="#A06AAD" stroke-width="0.75" fill="none"/>
<path d="M678.2,141.0 h-2.9" stroke="#A06AAD" stroke-width="0.75" fill="none"/>
<path d="M678.2,137.3 h-2.9" stroke="#A06AAD" stroke-width="0.75" fill="none"/>
<path d="M678.2,134.4 h-2.9" stroke="#A06AAD" stroke-width="0.75" fill="none"/>
<path d="M678.2,132.0 h-2.9" stroke="#A06AAD" stroke-width="0.75" fill="none"/>
<path d="M678.2,130.0 h-2.9" stroke="#A06AAD" stroke-width="0.75" fill="none"/>
<path d="M678.2,128.2 h-2.9" stroke="#A06AAD" stroke-width="0.75" fill="none"/>
<path d="M678.2,126.7 h-2.9" stroke="#A06AAD" stroke-width="0.75" fill="none"/>
<path d="M678.2,155.4 h-5.8" stroke="#9559A3" stroke-width="1.0" fill="none"/>
<text x="684.7" y="159.4" font-size="5.8" fill="#7E2F8E">10<tspan dy="-3.6" dx="0.3" font-size="4.5">4</tspan></text>
<path d="M678.2,176.5 h-2.9" stroke="#A06AAD" stroke-width="0.75" fill="none"/>
<path d="M678.2,171.2 h-2.9" stroke="#A06AAD" stroke-width="0.75" fill="none"/>
<path d="M678.2,167.4 h-2.9" stroke="#A06AAD" stroke-width="0.75" fill="none"/>
<path d="M678.2,164.5 h-2.9" stroke="#A06AAD" stroke-width="0.75" fill="none"/>
<path d="M678.2,162.1 h-2.9" stroke="#A06AAD" stroke-width="0.75" fill="none"/>
<path d="M678.2,160.1 h-2.9" stroke="#A06AAD" stroke-width="0.75" fill="none"/>
<path d="M678.2,158.3 h-2.9" stroke="#A06AAD" stroke-width="0.75" fill="none"/>
<path d="M678.2,156.8 h-2.9" stroke="#A06AAD" stroke-width="0.75" fill="none"/>
<path d="M678.2,185.6 h-5.8" stroke="#9559A3" stroke-width="1.0" fill="none"/>
<text x="684.7" y="189.6" font-size="5.8" fill="#7E2F8E">10<tspan dy="-3.6" dx="0.3" font-size="4.5">3</tspan></text>
<path d="M678.2,206.6 h-2.9" stroke="#A06AAD" stroke-width="0.75" fill="none"/>
<path d="M678.2,201.3 h-2.9" stroke="#A06AAD" stroke-width="0.75" fill="none"/>
<path d="M678.2,197.5 h-2.9" stroke="#A06AAD" stroke-width="0.75" fill="none"/>
<path d="M678.2,194.6 h-2.9" stroke="#A06AAD" stroke-width="0.75" fill="none"/>
<path d="M678.2,192.2 h-2.9" stroke="#A06AAD" stroke-width="0.75" fill="none"/>
<path d="M678.2,190.2 h-2.9" stroke="#A06AAD" stroke-width="0.75" fill="none"/>
<path d="M678.2,188.5 h-2.9" stroke="#A06AAD" stroke-width="0.75" fill="none"/>
<path d="M678.2,186.9 h-2.9" stroke="#A06AAD" stroke-width="0.75" fill="none"/>
<path d="M678.2,215.7 h-5.8" stroke="#9559A3" stroke-width="1.0" fill="none"/>
<text x="684.7" y="219.7" font-size="5.8" fill="#7E2F8E">10<tspan dy="-3.6" dx="0.3" font-size="4.5">2</tspan></text>
<path d="M678.2,236.7 h-2.9" stroke="#A06AAD" stroke-width="0.75" fill="none"/>
<path d="M678.2,231.4 h-2.9" stroke="#A06AAD" stroke-width="0.75" fill="none"/>
<path d="M678.2,227.7 h-2.9" stroke="#A06AAD" stroke-width="0.75" fill="none"/>
<path d="M678.2,224.8 h-2.9" stroke="#A06AAD" stroke-width="0.75" fill="none"/>
<path d="M678.2,222.4 h-2.9" stroke="#A06AAD" stroke-width="0.75" fill="none"/>
<path d="M678.2,220.4 h-2.9" stroke="#A06AAD" stroke-width="0.75" fill="none"/>
<path d="M678.2,218.6 h-2.9" stroke="#A06AAD" stroke-width="0.75" fill="none"/>
<path d="M678.2,217.1 h-2.9" stroke="#A06AAD" stroke-width="0.75" fill="none"/>
<path d="M678.2,245.8 h-5.8" stroke="#9559A3" stroke-width="1.0" fill="none"/>
<text x="684.7" y="249.8" font-size="5.8" fill="#7E2F8E">10<tspan dy="-3.6" dx="0.3" font-size="4.5">1</tspan></text>
<path d="M678.2,266.9 h-2.9" stroke="#A06AAD" stroke-width="0.75" fill="none"/>
<path d="M678.2,261.6 h-2.9" stroke="#A06AAD" stroke-width="0.75" fill="none"/>
<path d="M678.2,257.8 h-2.9" stroke="#A06AAD" stroke-width="0.75" fill="none"/>
<path d="M678.2,254.9 h-2.9" stroke="#A06AAD" stroke-width="0.75" fill="none"/>
<path d="M678.2,252.5 h-2.9" stroke="#A06AAD" stroke-width="0.75" fill="none"/>
<path d="M678.2,250.5 h-2.9" stroke="#A06AAD" stroke-width="0.75" fill="none"/>
<path d="M678.2,248.7 h-2.9" stroke="#A06AAD" stroke-width="0.75" fill="none"/>
<path d="M678.2,247.2 h-2.9" stroke="#A06AAD" stroke-width="0.75" fill="none"/>
<path d="M678.2,275.9 h-5.8" stroke="#9559A3" stroke-width="1.0" fill="none"/>
<text x="684.7" y="279.9" font-size="5.8" fill="#7E2F8E">10<tspan dy="-3.6" dx="0.3" font-size="4.5">0</tspan></text>
<path d="M678.2,297.0 h-2.9" stroke="#A06AAD" stroke-width="0.75" fill="none"/>
<path d="M678.2,291.7 h-2.9" stroke="#A06AAD" stroke-width="0.75" fill="none"/>
<path d="M678.2,287.9 h-2.9" stroke="#A06AAD" stroke-width="0.75" fill="none"/>
<path d="M678.2,285.0 h-2.9" stroke="#A06AAD" stroke-width="0.75" fill="none"/>
<path d="M678.2,282.6 h-2.9" stroke="#A06AAD" stroke-width="0.75" fill="none"/>
<path d="M678.2,280.6 h-2.9" stroke="#A06AAD" stroke-width="0.75" fill="none"/>
<path d="M678.2,278.9 h-2.9" stroke="#A06AAD" stroke-width="0.75" fill="none"/>
<path d="M678.2,277.3 h-2.9" stroke="#A06AAD" stroke-width="0.75" fill="none"/>
<path d="M678.2,306.1 h-5.8" stroke="#9559A3" stroke-width="1.0" fill="none"/>
<text x="684.7" y="310.1" font-size="5.8" fill="#7E2F8E">10<tspan dy="-3.6" dx="0.3" font-size="4.5">-1</tspan></text>
<path d="M678.2,327.1 h-2.9" stroke="#A06AAD" stroke-width="0.75" fill="none"/>
<path d="M678.2,321.8 h-2.9" stroke="#A06AAD" stroke-width="0.75" fill="none"/>
<path d="M678.2,318.1 h-2.9" stroke="#A06AAD" stroke-width="0.75" fill="none"/>
<path d="M678.2,315.1 h-2.9" stroke="#A06AAD" stroke-width="0.75" fill="none"/>
<path d="M678.2,312.8 h-2.9" stroke="#A06AAD" stroke-width="0.75" fill="none"/>
<path d="M678.2,310.7 h-2.9" stroke="#A06AAD" stroke-width="0.75" fill="none"/>
<path d="M678.2,309.0 h-2.9" stroke="#A06AAD" stroke-width="0.75" fill="none"/>
<path d="M678.2,307.5 h-2.9" stroke="#A06AAD" stroke-width="0.75" fill="none"/>
<path d="M678.2,336.2 h-5.8" stroke="#9559A3" stroke-width="1.0" fill="none"/>
<text x="684.7" y="340.2" font-size="5.8" fill="#7E2F8E">10<tspan dy="-3.6" dx="0.3" font-size="4.5">-2</tspan></text>
<path d="M678.2,357.3 h-2.9" stroke="#A06AAD" stroke-width="0.75" fill="none"/>
<path d="M678.2,352.0 h-2.9" stroke="#A06AAD" stroke-width="0.75" fill="none"/>
<path d="M678.2,348.2 h-2.9" stroke="#A06AAD" stroke-width="0.75" fill="none"/>
<path d="M678.2,345.3 h-2.9" stroke="#A06AAD" stroke-width="0.75" fill="none"/>
<path d="M678.2,342.9 h-2.9" stroke="#A06AAD" stroke-width="0.75" fill="none"/>
<path d="M678.2,340.9 h-2.9" stroke="#A06AAD" stroke-width="0.75" fill="none"/>
<path d="M678.2,339.1 h-2.9" stroke="#A06AAD" stroke-width="0.75" fill="none"/>
<path d="M678.2,337.6 h-2.9" stroke="#A06AAD" stroke-width="0.75" fill="none"/>
<path d="M678.2,366.3 h-5.8" stroke="#9559A3" stroke-width="1.0" fill="none"/>
<text x="684.7" y="370.3" font-size="5.8" fill="#7E2F8E">10<tspan dy="-3.6" dx="0.3" font-size="4.5">-3</tspan></text>
<path d="M678.2,387.4 h-2.9" stroke="#A06AAD" stroke-width="0.75" fill="none"/>
<path d="M678.2,382.1 h-2.9" stroke="#A06AAD" stroke-width="0.75" fill="none"/>
<path d="M678.2,378.3 h-2.9" stroke="#A06AAD" stroke-width="0.75" fill="none"/>
<path d="M678.2,375.4 h-2.9" stroke="#A06AAD" stroke-width="0.75" fill="none"/>
<path d="M678.2,373.0 h-2.9" stroke="#A06AAD" stroke-width="0.75" fill="none"/>
<path d="M678.2,371.0 h-2.9" stroke="#A06AAD" stroke-width="0.75" fill="none"/>
<path d="M678.2,369.3 h-2.9" stroke="#A06AAD" stroke-width="0.75" fill="none"/>
<path d="M678.2,367.7 h-2.9" stroke="#A06AAD" stroke-width="0.75" fill="none"/>
<path d="M678.2,396.5 h-5.8" stroke="#9559A3" stroke-width="1.0" fill="none"/>
<text x="684.7" y="400.5" font-size="5.8" fill="#7E2F8E">10<tspan dy="-3.6" dx="0.3" font-size="4.5">-4</tspan></text>
<path d="M678.2,417.5 h-2.9" stroke="#A06AAD" stroke-width="0.75" fill="none"/>
<path d="M678.2,412.2 h-2.9" stroke="#A06AAD" stroke-width="0.75" fill="none"/>
<path d="M678.2,408.5 h-2.9" stroke="#A06AAD" stroke-width="0.75" fill="none"/>
<path d="M678.2,405.5 h-2.9" stroke="#A06AAD" stroke-width="0.75" fill="none"/>
<path d="M678.2,403.2 h-2.9" stroke="#A06AAD" stroke-width="0.75" fill="none"/>
<path d="M678.2,401.1 h-2.9" stroke="#A06AAD" stroke-width="0.75" fill="none"/>
<path d="M678.2,399.4 h-2.9" stroke="#A06AAD" stroke-width="0.75" fill="none"/>
<path d="M678.2,397.8 h-2.9" stroke="#A06AAD" stroke-width="0.75" fill="none"/>
<path d="M678.2,426.6 h-5.8" stroke="#9559A3" stroke-width="1.0" fill="none"/>
<text x="684.7" y="430.6" font-size="5.8" fill="#7E2F8E">10<tspan dy="-3.6" dx="0.3" font-size="4.5">-5</tspan></text>
<path d="M96.3,426.3 L339.6,426.3" stroke="#C66B41" stroke-width="1.3" fill="none"/>
<path d="M96.3,426.5 H129" stroke="#A8410F" stroke-width="2.9" fill="none"/>
<path d="M339.6,426.3 L340.3,125.0" stroke="#E68A5F" stroke-width="1.0" fill="none"/>
<path d="M340.3,125.0 C340.3,122.5 340.2,114.2 340.4,110.0 C340.6,105.8 341.1,103.2 341.6,100.1 C342.1,97.0 342.8,93.9 343.5,91.4 C344.2,88.9 344.9,87.0 346.0,85.1 C347.1,83.2 348.3,81.6 349.8,79.8 C351.3,78.0 352.9,76.1 354.8,74.4 C356.7,72.7 358.8,71.0 361.1,69.4 C363.4,67.8 365.9,66.1 368.6,64.8 C371.3,63.5 374.5,62.4 377.4,61.4 C380.3,60.4 383.0,59.7 386.1,58.9 C389.2,58.1 392.0,57.4 396.0,56.6 C400.0,55.8 404.6,55.1 410.0,54.2 C415.4,53.3 422.5,52.1 428.7,51.2 C434.9,50.4 441.2,49.7 447.4,49.1 C453.6,48.5 459.9,48.0 466.1,47.6 C472.3,47.2 478.6,46.8 484.8,46.5 C491.0,46.2 497.3,45.9 503.5,45.6 C509.7,45.4 514.4,45.2 522.1,45.0 C529.9,44.8 537.0,44.5 550.0,44.2 C563.0,43.9 578.7,43.6 600.0,43.4 C621.3,43.2 665.0,42.9 678.0,42.8" stroke="#E68A5F" stroke-width="1.0" fill="none"/>
<path d="M96.3,296.8 C97.1,292.5 99.3,280.3 101.0,271.0 C102.7,261.7 104.7,250.3 106.3,241.0 C107.9,231.7 109.4,221.2 110.4,215.0 C111.4,208.8 111.6,208.0 112.3,204.0 C113.0,200.0 113.8,195.5 114.7,190.8 C115.6,186.1 116.6,180.8 117.6,175.8 C118.5,170.8 119.5,165.6 120.4,160.7 C121.3,155.8 122.0,151.1 122.8,146.5 C123.6,141.9 124.5,137.1 125.3,133.0 C126.1,128.9 126.8,125.5 127.5,122.0 C128.2,118.5 128.8,115.4 129.4,112.0 C130.0,108.6 130.4,104.4 130.8,101.4 C131.2,98.5 131.6,96.0 132.1,94.3 C132.6,92.6 133.1,91.9 133.7,91.2 C134.3,90.5 134.8,90.2 135.8,89.9 C136.8,89.6 138.3,89.4 139.6,89.4 C140.9,89.4 142.2,89.5 143.8,89.9 C145.4,90.3 146.9,90.8 149.2,91.8 C151.5,92.8 154.5,94.0 157.7,95.6 C160.9,97.2 164.8,99.2 168.4,101.4 C172.0,103.6 175.5,106.3 179.1,108.9 C182.7,111.5 187.1,115.0 189.8,117.0 C192.5,119.0 193.5,119.7 195.3,121.2 C197.1,122.7 198.9,124.3 200.7,125.8 C202.5,127.3 204.2,128.9 206.0,130.4 C207.8,131.9 209.6,133.5 211.4,134.9 C213.2,136.3 214.9,137.8 216.7,139.0 C218.5,140.2 220.2,141.3 222.0,142.4 C223.8,143.5 225.6,144.6 227.4,145.4 C229.2,146.2 230.9,147.0 232.7,147.5 C234.5,148.0 236.3,148.4 238.1,148.6 C239.9,148.8 241.6,149.0 243.4,148.8 C245.2,148.7 246.9,148.3 248.7,147.7 C250.5,147.1 252.3,146.3 254.1,145.1 C255.9,143.8 257.6,142.1 259.4,140.2 C261.2,138.3 263.3,135.6 264.8,133.8 C266.3,132.0 267.1,131.1 268.2,129.6 C269.3,128.1 270.1,126.6 271.4,124.8 C272.6,123.0 274.1,121.0 275.7,118.9 C277.3,116.8 279.2,114.4 281.0,112.3 C282.8,110.2 284.6,108.0 286.4,106.4 C288.2,104.8 289.9,103.8 291.7,102.7 C293.5,101.6 295.2,100.7 297.0,100.0 C298.8,99.3 300.6,98.7 302.4,98.4 C304.2,98.1 305.9,98.3 307.7,98.4 C309.5,98.5 311.3,98.8 313.1,99.0 C314.9,99.2 317.0,99.5 318.4,99.4 C319.8,99.4 320.2,99.4 321.6,98.7 C323.0,98.0 325.2,96.5 327.0,95.5 C328.8,94.5 330.5,93.8 332.3,92.8 C334.1,91.8 336.1,90.4 337.6,89.3 C339.1,88.2 340.3,86.9 341.5,86.3 C342.7,85.7 343.8,85.5 345.0,85.4 C346.2,85.3 347.4,85.2 349.0,85.6 C350.6,86.0 352.5,86.9 354.6,87.9 C356.8,88.9 359.4,90.3 361.9,91.6 C364.3,92.9 366.9,94.2 369.3,95.9 C371.8,97.6 374.2,99.8 376.6,101.8 C379.0,103.8 381.5,106.0 383.9,107.7 C386.3,109.4 388.8,110.8 391.2,112.0 C393.6,113.2 396.1,114.0 398.5,114.7 C400.9,115.4 403.1,115.5 405.8,116.1 C408.6,116.6 411.0,117.2 415.0,118.0 C419.0,118.8 424.7,119.7 429.6,121.1 C434.5,122.5 439.3,124.2 444.2,126.2 C449.1,128.2 454.0,130.2 458.9,132.8 C463.8,135.4 468.6,138.3 473.5,141.5 C478.4,144.7 483.2,148.1 488.1,151.8 C493.0,155.5 498.0,159.5 502.7,163.5 C507.4,167.5 512.3,171.9 516.5,175.7 C520.7,179.5 524.2,182.6 528.0,186.3 C531.8,190.0 535.7,194.1 539.5,198.0 C543.3,201.9 547.2,205.9 551.0,209.9 C554.8,213.9 558.7,217.9 562.5,222.1 C566.3,226.3 570.2,230.6 574.0,234.9 C577.8,239.2 581.7,243.5 585.5,247.8 C589.3,252.1 593.5,256.8 597.0,260.7 C600.5,264.6 603.0,267.5 606.5,271.5 C610.0,275.5 614.2,280.2 618.0,284.6 C621.8,289.1 625.6,293.6 629.4,298.2 C633.2,302.8 637.1,307.2 640.9,311.9 C644.7,316.6 648.6,321.4 652.4,326.2 C656.2,330.9 660.4,336.2 663.9,340.4 C667.4,344.6 670.7,348.6 673.1,351.4 C675.5,354.2 677.3,356.2 678.1,357.2" stroke="#A873B4" stroke-width="1.0" fill="none"/>
<path d="M96.3,305.7 L104.5,305.7 L104.5,275.3 L111.0,275.3 L111.0,254.8 L114.1,254.8" stroke="#EDB120" stroke-width="2.3" fill="none" stroke-linejoin="miter"/>
<path d="M114.1,254.8 C114.2,253.3 114.6,249.1 115.0,246.0 C115.4,242.9 115.8,239.3 116.3,236.0 C116.8,232.7 117.3,229.3 117.9,226.0 C118.5,222.7 119.1,219.1 119.7,216.0 C120.3,212.9 120.9,210.2 121.5,207.5 C122.1,204.8 122.6,202.8 123.4,199.5 C124.2,196.2 125.3,191.8 126.3,187.5 C127.3,183.2 128.4,178.4 129.5,174.0 C130.6,169.6 131.5,165.1 132.6,161.0 C133.7,156.9 135.0,153.0 136.3,149.5 C137.6,146.0 139.0,142.8 140.6,140.0 C142.2,137.2 144.0,134.5 145.8,132.5 C147.6,130.5 149.4,129.5 151.4,127.9 C153.4,126.3 155.8,124.2 157.7,122.8 C159.6,121.4 161.3,120.5 163.1,119.6 C164.9,118.7 166.3,118.0 168.4,117.5 C170.5,117.0 173.4,116.7 175.9,116.7 C178.4,116.8 181.1,117.2 183.4,117.8 C185.7,118.4 187.8,119.2 189.8,120.1 C191.8,121.0 193.5,122.2 195.3,123.2 C197.1,124.2 198.9,125.3 200.7,126.4 C202.5,127.5 204.2,128.6 206.0,129.6 C207.8,130.6 209.6,131.7 211.4,132.6 C213.2,133.5 214.9,134.4 216.7,135.1 C218.5,135.8 220.2,136.3 222.0,136.9 C223.8,137.5 225.6,138.1 227.4,138.4 C229.2,138.7 230.9,138.9 232.7,138.9 C234.5,138.9 236.3,138.9 238.1,138.7 C239.9,138.5 241.6,138.2 243.4,137.8 C245.2,137.4 246.9,136.9 248.7,136.2 C250.5,135.5 252.3,134.8 254.1,133.8 C255.9,132.8 257.6,131.6 259.4,130.4 C261.2,129.2 263.0,127.9 264.8,126.4 C266.6,124.9 268.5,123.2 270.3,121.5 C272.1,119.8 273.9,118.1 275.7,116.4 C277.5,114.8 279.2,113.3 281.0,111.6 C282.8,109.9 284.6,107.8 286.4,106.3 C288.2,104.8 289.9,103.5 291.7,102.3 C293.5,101.1 295.2,99.9 297.0,98.9 C298.8,97.9 300.6,97.0 302.4,96.3 C304.2,95.6 305.9,95.0 307.7,94.8 C309.5,94.6 311.3,94.8 313.1,94.9 C314.9,95.0 316.6,95.1 318.4,95.2 C320.2,95.3 321.9,95.3 323.7,95.3 C325.5,95.3 327.3,95.2 329.1,95.0 C330.9,94.8 332.6,94.4 334.4,94.0 C336.2,93.6 337.9,93.2 339.8,92.5 C341.7,91.8 343.9,90.4 345.9,89.5 C347.9,88.6 349.8,87.7 351.7,87.1 C353.6,86.5 355.7,86.2 357.6,86.1 C359.6,86.0 361.5,86.1 363.4,86.3 C365.2,86.5 367.8,87.0 368.7,87.1" stroke="#EDB120" stroke-width="2.3" fill="none" stroke-linejoin="round"/>
<text x="369.9" y="91.7" text-anchor="start" font-size="13.8" fill="#EDB120" stroke="#EDB120" stroke-width="0.22">Reported active cases 1851466</text>
<text x="676.0" y="39.4" text-anchor="end" font-size="13.85" fill="#D95319" stroke="#D95319" stroke-width="0.22">Vaccinated</text>
<text x="679.8" y="55.1" text-anchor="end" font-size="13.8" fill="#D95319" stroke="#D95319" stroke-width="0.22">55m</text>
<text x="680.1" y="347.2" text-anchor="end" font-size="13.95" fill="#7E2F8E" stroke="#7E2F8E" stroke-width="0.22" clip-path="url(#cpR)">Model Active 0</text>
<rect x="100.3" y="38.4" width="205.2" height="92.9" fill="none" stroke="#606060" stroke-width="1.1"/>
<path d="M104.4,46.5 H134.9" stroke="#449ADA" stroke-width="0.85" fill="none"/>
<text x="139.4" y="49.5" font-size="10.62" fill="#141414" stroke="#141414" stroke-width="0.18">Model-UK191 All Serious</text>
<path d="M104.4,61.5 H134.9" stroke="#D95319" stroke-width="2.6" fill="none"/>
<text x="139.4" y="65.1" font-size="10.62" fill="#141414" stroke="#141414" stroke-width="0.18">Reported-UK191 Deaths</text>
<path d="M104.4,77.5 H134.9" stroke="#303030" stroke-width="0.8" fill="none"/>
<text x="139.4" y="80.8" font-size="10.62" fill="#141414" stroke="#141414" stroke-width="0.18">Model-UK191 Deaths</text>
<path d="M104.4,92.5 H134.9" stroke="#E68A5F" stroke-width="0.9" fill="none"/>
<text x="139.4" y="96.3" font-size="10.62" fill="#141414" stroke="#141414" stroke-width="0.18">Model-UK191 Vaccinated</text>
<path d="M104.4,108.5 H134.9" stroke="#EDB120" stroke-width="2.6" fill="none"/>
<text x="139.4" y="111.9" font-size="10.62" fill="#141414" stroke="#141414" stroke-width="0.18">Reported-UK191 Active cases</text>
<path d="M104.4,123.5 H134.9" stroke="#A873B4" stroke-width="0.9" fill="none"/>
<text x="139.4" y="127.5" font-size="10.62" fill="#141414" stroke="#141414" stroke-width="0.18">Model-UK191 All Active</text>
</svg>
</body></html>
